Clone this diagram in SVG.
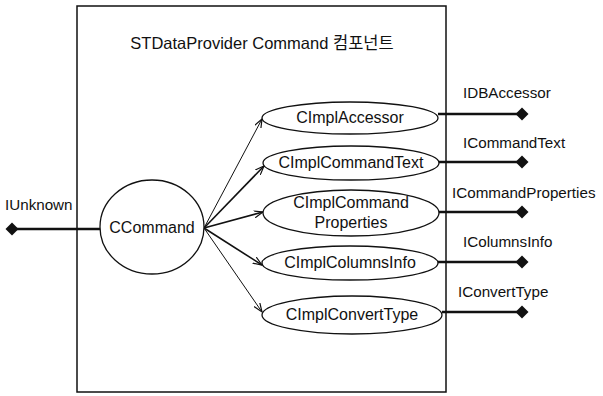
<svg xmlns="http://www.w3.org/2000/svg" width="603" height="396" viewBox="0 0 603 396">
<style>
text{font-family:"Liberation Sans","Noto Sans CJK KR",sans-serif;fill:#111}
.n{fill:#fff;stroke:#111;stroke-width:1.3}
.c{font-size:16px;text-anchor:middle}
.t{font-size:16.5px;text-anchor:middle}
.l{font-size:15.2px}
.w{stroke:#111;stroke-width:2.5;fill:none}
.a{stroke:#111;fill:none}
</style>
<defs>
<marker id="ar" markerWidth="10" markerHeight="8" refX="9" refY="4" orient="auto" markerUnits="userSpaceOnUse">
<path d="M0,0.5 L9,4 L0,7.5" fill="none" stroke="#111" stroke-width="1.2"/>
</marker>
<path id="dm" d="M0,-6.5 L6.5,0 L0,6.5 L-6.5,0Z" fill="#111"/>
</defs>
<rect x="77" y="6" width="369" height="386" fill="none" stroke="#111" stroke-width="1.5"/>
<text x="262" y="49" class="t">STDataProvider Command 컴포넌트</text>
<g id="connectors">
<line class="w" x1="12" y1="229" x2="100" y2="229"/>
<use href="#dm" x="12" y="229"/>
<line class="a" stroke-width="1" x1="204" y1="228" x2="262" y2="119" marker-end="url(#ar)"/>
<line class="a" stroke-width="1.6" x1="204" y1="228" x2="264" y2="166" marker-end="url(#ar)"/>
<line class="a" stroke-width="1.8" x1="204" y1="228" x2="263" y2="212" marker-end="url(#ar)"/>
<line class="a" stroke-width="1.6" x1="204" y1="228" x2="262" y2="265" marker-end="url(#ar)"/>
<line class="a" stroke-width="1" x1="204" y1="228" x2="262" y2="312" marker-end="url(#ar)"/>
<line class="w" x1="438" y1="114" x2="522" y2="114"/><use href="#dm" x="522" y="114"/>
<line class="w" x1="438" y1="162" x2="522" y2="162"/><use href="#dm" x="522" y="162"/>
<line class="w" x1="438" y1="212" x2="522" y2="212"/><use href="#dm" x="522" y="212"/>
<line class="w" x1="438" y1="262" x2="522" y2="262"/><use href="#dm" x="522" y="262"/>
<line class="w" x1="442" y1="312" x2="522" y2="312"/><use href="#dm" x="522" y="312"/>
</g>
<g id="IUnknown"><text x="5" y="210" class="l">IUnknown</text></g>
<g id="CCommand"><ellipse class="n" cx="152" cy="227" rx="52" ry="47"/><text x="152" y="233" class="c">CCommand</text></g>
<g id="CImplAccessor"><ellipse class="n" cx="350" cy="118" rx="88" ry="16"/><text x="350" y="123" class="c">CImplAccessor</text></g>
<g id="CImplCommandText"><ellipse class="n" cx="351" cy="163" rx="88" ry="17"/><text x="351" y="168" class="c">CImplCommandText</text></g>
<g id="CImplCommandProperties"><ellipse class="n" cx="351" cy="213" rx="88" ry="23"/><text x="351" y="208" class="c">CImplCommand</text><text x="351" y="228" class="c">Properties</text></g>
<g id="CImplColumnsInfo"><ellipse class="n" cx="350" cy="263" rx="88" ry="17"/><text x="350" y="268" class="c">CImplColumnsInfo</text></g>
<g id="CImplConvertType"><ellipse class="n" cx="352" cy="315" rx="90" ry="19"/><text x="352" y="320" class="c">CImplConvertType</text></g>
<g id="IDBAccessor"><text x="463" y="98" class="l">IDBAccessor</text></g>
<g id="ICommandText"><text x="463" y="148" class="l">ICommandText</text></g>
<g id="ICommandProperties"><text x="452" y="198" class="l">ICommandProperties</text></g>
<g id="IColumnsInfo"><text x="463" y="247" class="l">IColumnsInfo</text></g>
<g id="IConvertType"><text x="458" y="297" class="l">IConvertType</text></g>
</svg>
